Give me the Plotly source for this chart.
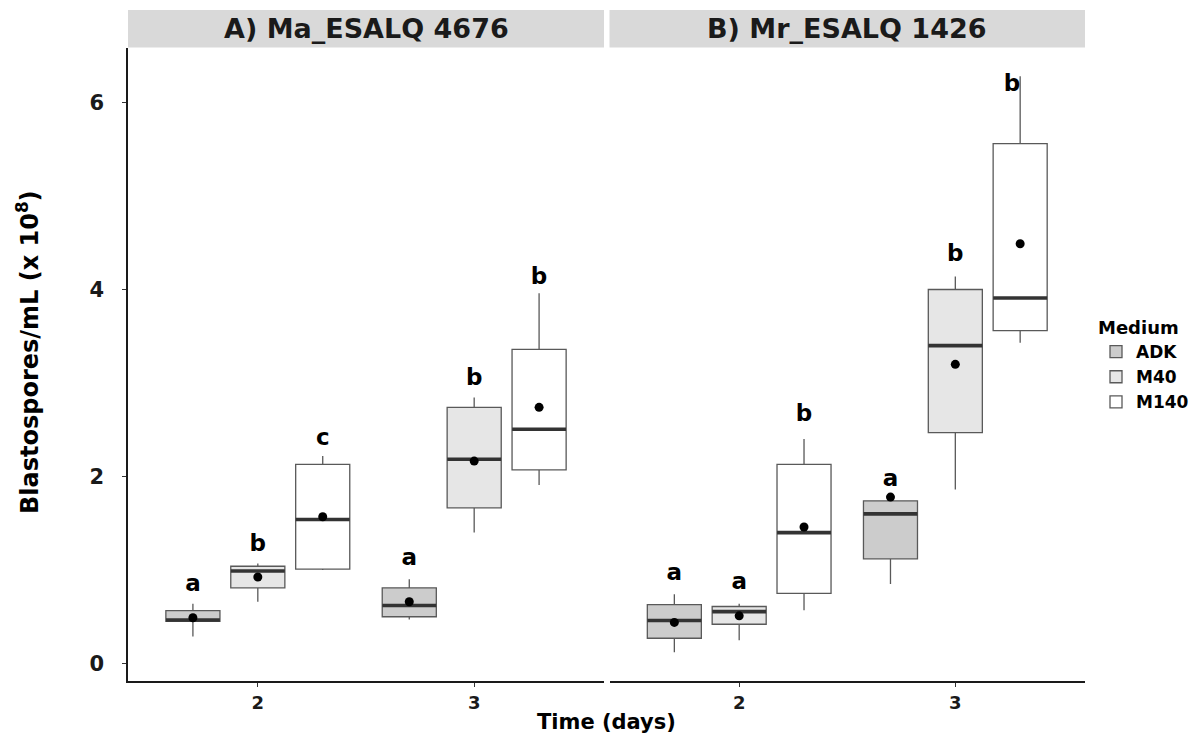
import plotly.graph_objects as go

# ---------------- data ----------------
times = ["2", "3"]
media = ["ADK", "M40", "M140"]
fills = {"ADK": "#CCCCCC", "M40": "#E6E6E6", "M140": "#FFFFFF"}

panels = ["A) Ma_ESALQ 4676", "B) Mr_ESALQ 1426"]

# Panel A
A_lower = {"ADK": [0.29, 0.47], "M40": [0.66, 1.40], "M140": [1.00, 1.91]}
A_q1 = {"ADK": [0.45, 0.50], "M40": [0.81, 1.665], "M140": [1.01, 2.07]}
A_med = {"ADK": [0.465, 0.62], "M40": [0.99, 2.185], "M140": [1.54, 2.505]}
A_q3 = {"ADK": [0.565, 0.81], "M40": [1.04, 2.74], "M140": [2.13, 3.36]}
A_upper = {"ADK": [0.64, 0.90], "M40": [1.07, 2.845], "M140": [2.22, 3.96]}
A_mean = {"ADK": [0.49, 0.66], "M40": [0.925, 2.165], "M140": [1.57, 2.74]}
A_letters = {"ADK": ["a", "a"], "M40": ["b", "b"], "M140": ["c", "b"]}
A_letter_y = {"ADK": [0.84, 1.11], "M40": [1.26, 3.04], "M140": [2.40, 4.12]}

# Panel B
B_lower = {"ADK": [0.12, 0.85], "M40": [0.25, 1.86], "M140": [0.57, 3.43]}
B_q1 = {"ADK": [0.27, 1.12], "M40": [0.42, 2.47], "M140": [0.75, 3.56]}
B_med = {"ADK": [0.46, 1.60], "M40": [0.555, 3.40], "M140": [1.40, 3.91]}
B_q3 = {"ADK": [0.63, 1.74], "M40": [0.61, 4.00], "M140": [2.13, 5.56]}
B_upper = {"ADK": [0.74, 1.74], "M40": [0.64, 4.14], "M140": [2.40, 6.28]}
B_mean = {"ADK": [0.44, 1.78], "M40": [0.51, 3.20], "M140": [1.46, 4.49]}
B_letters = {"ADK": ["a", "a"], "M40": ["a", "b"], "M140": ["b", "b"]}
B_letter_y = {"ADK": [0.95, 1.96], "M40": [0.86, 4.37], "M140": [2.65, 6.18]}

y_ticks = [0, 2, 4, 6]

panel_data = [
    (A_lower, A_q1, A_med, A_q3, A_upper, A_mean, A_letters, A_letter_y),
    (B_lower, B_q1, B_med, B_q3, B_upper, B_mean, B_letters, B_letter_y),
]

FONT = "DejaVu Sans"

fig = go.Figure()

for pi, (lo, q1, md, q3, up, mn, let, ly) in enumerate(panel_data):
    xa = "x" if pi == 0 else "x2"
    ya = "y" if pi == 0 else "y2"
    for m in media:
        fig.add_trace(go.Box(
            x=times, q1=q1[m], median=md[m], q3=q3[m],
            lowerfence=lo[m], upperfence=up[m],
            name=m, legendgroup=m, showlegend=(pi == 0),
            offsetgroup=m, fillcolor=fills[m],
            line=dict(color="#595959", width=1.3),
            whiskerwidth=0, boxpoints=False, hoverinfo="skip",
            xaxis=xa, yaxis=ya,
        ))
    for m in media:
        # thick median line (line-ew length = 1.4 * size)
        fig.add_trace(go.Scatter(
            x=times, y=md[m], mode="markers", offsetgroup=m,
            marker=dict(symbol="line-ew", size=38.5, color="#333333",
                        line=dict(color="#333333", width=3.6)),
            showlegend=False, hoverinfo="skip", xaxis=xa, yaxis=ya,
        ))
    for m in media:
        # mean points
        fig.add_trace(go.Scatter(
            x=times, y=mn[m], mode="markers", offsetgroup=m,
            marker=dict(symbol="circle", size=9, color="black"),
            showlegend=False, hoverinfo="skip", xaxis=xa, yaxis=ya,
        ))
    for m in media:
        tp = ["middle center", "middle center"]
        if pi == 1 and m == "M140":
            tp = ["middle center", "middle left"]
        fig.add_trace(go.Scatter(
            x=times, y=ly[m], mode="text", text=let[m], offsetgroup=m,
            textposition=tp,
            textfont=dict(family=FONT, size=23, color="black", weight="bold"),
            showlegend=False, hoverinfo="skip", xaxis=xa, yaxis=ya,
        ))

W, H = 1191, 736
L, R, T, B = 128, 1085, 48, 681
pw = R - L
ph = B - T
dA = [0.0, (604 - L) / pw]
dB = [(609.5 - L) / pw, 1.0]

yrange = [-0.187, 6.583]
axis_common = dict(
    type="category", range=[-0.6, 1.6], showgrid=False, zeroline=False,
    showline=True, linecolor="#1a1a1a", linewidth=1.5, automargin=False,
    ticks="outside", ticklen=4, tickcolor="#333333", tickwidth=1,
    ticklabelstandoff=1,
    tickfont=dict(family=FONT, size=18, color="#1a1a1a", weight="bold"),
    categoryorder="array", categoryarray=times,
)

fig.update_layout(
    width=W, height=H,
    margin=dict(l=L, r=W - R, t=T, b=H - B, autoexpand=False),
    paper_bgcolor="white", plot_bgcolor="white",
    boxmode="group", boxgap=0.1, boxgroupgap=1 / 6,
    scattermode="group", scattergap=0.1,
    font=dict(family=FONT, color="black"),
    xaxis=dict(domain=dA, anchor="y", **axis_common),
    xaxis2=dict(domain=dB, anchor="y2", **axis_common),
    yaxis=dict(
        range=yrange, tickvals=y_ticks, showgrid=False, zeroline=False,
        showline=True, linecolor="#1a1a1a", linewidth=1.5, automargin=False,
        ticks="outside", ticklen=4, tickcolor="#333333", tickwidth=1,
        ticklabelstandoff=14,
        tickfont=dict(family=FONT, size=21, color="#1a1a1a", weight="bold"),
    ),
    yaxis2=dict(
        range=yrange, matches="y", anchor="x2", showticklabels=False,
        showgrid=False, zeroline=False, showline=False, ticks="",
        automargin=False,
    ),
    legend=dict(
        x=1.0 + (1096 - R) / pw, xanchor="left", y=0.585, yanchor="top",
        title=dict(text="Medium", font=dict(family=FONT, size=18, weight="bold")),
        font=dict(family=FONT, size=17, color="black", weight="bold"),
        itemwidth=30, tracegroupgap=0, bgcolor="rgba(0,0,0,0)",
    ),
    showlegend=True,
)

# strips
for xr, label in zip(["x domain", "x2 domain"], panels):
    fig.add_shape(type="rect", xref=xr, yref="paper", x0=0, x1=1,
                  y0=1 + 0.5 / ph, y1=1 + 38 / ph,
                  fillcolor="#D9D9D9", line=dict(width=0), layer="below")
    fig.add_annotation(xref=xr, yref="paper", x=0.5, y=1 + 19.5 / ph,
                       text=label, showarrow=False,
                       font=dict(family=FONT, size=27, color="#1a1a1a", weight="bold"),
                       xanchor="center", yanchor="middle")

# y title
fig.add_annotation(xref="paper", yref="paper", x=-(L - 28) / pw, y=(B - 352) / ph,
                   text="Blastospores/mL (x 10<sup>8</sup>)", showarrow=False,
                   textangle=-90,
                   font=dict(family=FONT, size=24, color="black", weight="bold"),
                   xanchor="center", yanchor="middle")

# x title
fig.add_annotation(xref="paper", yref="paper", x=(606 - L) / pw, y=-(722 - B) / ph,
                   text="Time (days)", showarrow=False,
                   font=dict(family=FONT, size=21, color="black", weight="bold"),
                   xanchor="center", yanchor="middle")

fig.write_html("out.html",
               config={"displayModeBar": False},
               post_script="document.body.style.margin='0px';document.body.style.padding='0px';")
